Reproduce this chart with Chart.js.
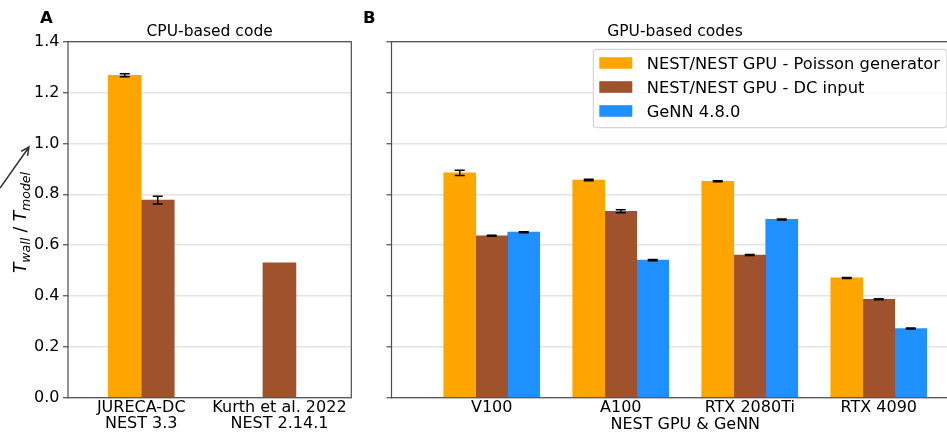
<!DOCTYPE html>
<html lang="en">
<head>
<meta charset="UTF-8">
<title>Real-time factor: CPU vs GPU codes</title>
<script src="https://cdn.jsdelivr.net/npm/chart.js@4.4.0/dist/chart.umd.min.js"></script>
<style>
  html, body { margin: 0; padding: 0; background: #fff; }
  body { width: 947px; height: 433px; overflow: hidden; position: relative; }
  #wrapA { position: absolute; left: 0; top: 0; width: 360px; height: 433px; }
  #wrapB { position: absolute; left: 355px; top: 0; width: 640px; height: 433px; }
</style>
</head>
<body>
<div id="wrapA"><canvas id="cpuChart"></canvas></div>
<div id="wrapB"><canvas id="gpuChart"></canvas></div>
<script>

// panel A - CPU-based code
var cpuLabels = [['JURECA-DC', 'NEST 3.3'], ['Kurth et al. 2022', 'NEST 2.14.1']];
var cpuPoisson = [1.268, null];
var cpuPoissonErr = [0.006, null];
var cpuDC = [0.777, 0.530];
var cpuDCErr = [0.015, null];

// panel B - GPU-based codes
var gpuLabels = ['V100', 'A100', 'RTX 2080Ti', 'RTX 4090'];
var gpuPoisson = [0.884, 0.856, 0.851, 0.471];
var gpuPoissonErr = [0.010, 0.003, 0.002, 0.002];
var gpuDC = [0.637, 0.733, 0.561, 0.387];
var gpuDCErr = [0.002, 0.006, 0.002, 0.002];
var genn = [0.651, 0.541, 0.701, 0.272];
var gennErr = [0.002, 0.002, 0.002, 0.002];

var seriesNames = ['NEST/NEST GPU - Poisson generator', 'NEST/NEST GPU - DC input', 'GeNN 4.8.0'];
var colors = ['#ffa500', '#a0522d', '#1e90ff'];

Chart.defaults.font.family = "'DejaVu Sans', sans-serif";
Chart.defaults.font.size = 16;
Chart.defaults.color = '#000';
Chart.defaults.animation = false;

function pts(vals) {
  return vals.map(function (v, i) { return { x: i, y: v }; });
}

var errorBars = {
  id: 'errorBars',
  afterDatasetsDraw: function (chart) {
    var ctx = chart.ctx, ys = chart.scales.y;
    ctx.save();
    ctx.strokeStyle = '#000';
    ctx.lineWidth = 1.5;
    chart.data.datasets.forEach(function (ds, di) {
      var meta = chart.getDatasetMeta(di);
      meta.data.forEach(function (bar, i) {
        var v = ds.data[i].y, e = ds.errors[i];
        if (v == null || e == null) return;
        var x = bar.x;
        var y1 = ys.getPixelForValue(v + e), y0 = ys.getPixelForValue(v - e);
        ctx.beginPath();
        ctx.moveTo(x, y1); ctx.lineTo(x, y0);
        ctx.moveTo(x - 5, y1); ctx.lineTo(x + 5, y1);
        ctx.moveTo(x - 5, y0); ctx.lineTo(x + 5, y0);
        ctx.stroke();
      });
    });
    ctx.restore();
  }
};

var frame = {
  id: 'frame',
  afterDraw: function (chart) {
    var a = chart.chartArea, ctx = chart.ctx;
    ctx.save();
    ctx.strokeStyle = '#4d4d4d';
    ctx.lineWidth = 1.2;
    ctx.strokeRect(a.left, a.top, a.right - a.left, a.bottom - a.top);
    ctx.restore();
  }
};

function yAxis(width, showLabels) {
  return {
    min: 0, max: 1.4,
    afterFit: function (s) { s.width = width; },
    border: { display: false },
    grid: { color: '#e3e3e3', lineWidth: 1.5, tickLength: 5, tickColor: '#4d4d4d', tickWidth: 1.2 },
    ticks: {
      display: showLabels, stepSize: 0.2, padding: 3.5,
      callback: function (v) { return v.toFixed(1); }
    }
  };
}

function xAxis(labels, min, max) {
  return {
    type: 'linear', min: min, max: max,
    offset: false,
    afterFit: function (s) { s.height = 35.3; },
    afterBuildTicks: function (s) { s.ticks = labels.map(function (_, i) { return { value: i }; }); },
    border: { display: false },
    grid: { display: false, offset: false, drawTicks: false },
    ticks: {
      autoSkip: false, maxRotation: 0, padding: 2,
      font: { lineHeight: 1.0 },
      callback: function (v) { return labels[v]; }
    }
  };
}

var cpuDecor = {
  id: 'cpuDecor',
  afterDraw: function (chart) {
    var ctx = chart.ctx, a = chart.chartArea;
    ctx.save();
    ctx.fillStyle = '#000';
    ctx.textBaseline = 'alphabetic';
    ctx.textAlign = 'left';
    ctx.font = "bold 16.5px 'DejaVu Sans'";
    ctx.fillText('A', 40, 23);
    ctx.textAlign = 'center';
    ctx.font = "15.5px 'DejaVu Sans'";
    ctx.fillText('CPU-based code', (a.left + a.right) / 2, 35.5);

    // y label T_wall / T_model
    var parts = [['T', 17, 0, 'italic '], ['wall', 12.5, 4.5, 'italic '], [' / ', 17, 0, ''],
                 ['T', 17, 0, 'italic '], ['model', 12.5, 4.5, 'italic ']];
    ctx.translate(25.5, 222.5);
    ctx.rotate(-Math.PI / 2);
    ctx.textAlign = 'left';
    var total = 0;
    parts.forEach(function (p) {
      ctx.font = p[3] + p[1] + "px 'DejaVu Sans'";
      p.push(ctx.measureText(p[0]).width);
      total += p[4];
    });
    var x = -total / 2;
    parts.forEach(function (p) {
      ctx.font = p[3] + p[1] + "px 'DejaVu Sans'";
      ctx.fillText(p[0], x, p[2]);
      x += p[4];
    });
    ctx.restore();

    // arrow coming in from the left
    ctx.save();
    ctx.strokeStyle = '#333';
    ctx.lineWidth = 1.5;
    var x0 = 0, y0 = 188, x1 = 29, y1 = 147;
    var ang = Math.atan2(y1 - y0, x1 - x0);
    ctx.beginPath();
    ctx.moveTo(x0, y0); ctx.lineTo(x1, y1);
    ctx.moveTo(x1 - 9 * Math.cos(ang - 0.45), y1 - 9 * Math.sin(ang - 0.45));
    ctx.lineTo(x1, y1);
    ctx.lineTo(x1 - 9 * Math.cos(ang + 0.45), y1 - 9 * Math.sin(ang + 0.45));
    ctx.stroke();
    ctx.restore();
  }
};

var gpuDecor = {
  id: 'gpuDecor',
  afterDraw: function (chart) {
    var ctx = chart.ctx, a = chart.chartArea;
    ctx.save();
    ctx.fillStyle = '#000';
    ctx.textBaseline = 'alphabetic';
    ctx.textAlign = 'left';
    ctx.font = "bold 16.5px 'DejaVu Sans'";
    ctx.fillText('B', 8, 23);
    ctx.textAlign = 'center';
    ctx.font = "15.5px 'DejaVu Sans'";
    ctx.fillText('GPU-based codes', a.left + 283.5, 35.5);
    ctx.font = "16px 'DejaVu Sans'";
    ctx.fillText('NEST GPU & GeNN', (a.left + a.right) / 2, 429);

    // legend
    ctx.font = "16.3px 'DejaVu Sans'";
    var bx = a.left + 201.8, by = a.top + 7.6, textX = bx + 53.4;
    var widest = 0;
    chart.data.datasets.forEach(function (ds) { widest = Math.max(widest, ctx.measureText(ds.label).width); });
    var bw = textX + widest + 7 - bx, bh = 78.4;
    ctx.beginPath();
    ctx.roundRect(bx, by, bw, bh, 3);
    ctx.fillStyle = 'rgba(255,255,255,0.8)';
    ctx.fill();
    ctx.strokeStyle = '#cccccc';
    ctx.lineWidth = 1;
    ctx.stroke();
    ctx.textAlign = 'left';
    chart.data.datasets.forEach(function (ds, i) {
      var rowY = by + 13.7 + i * 24;
      ctx.fillStyle = ds.backgroundColor;
      ctx.fillRect(bx + 6, rowY - 5.8, 33, 11.6);
      ctx.fillStyle = '#000';
      ctx.fillText(ds.label, textX, rowY + 6);
    });
    ctx.restore();
  }
};

window.onload = function () {
  new Chart(document.getElementById('cpuChart'), {
    type: 'bar',
    data: {
      datasets: [
        { label: seriesNames[0], data: pts(cpuPoisson), errors: cpuPoissonErr, backgroundColor: colors[0] },
        { label: seriesNames[1], data: pts(cpuDC), errors: cpuDCErr, backgroundColor: colors[1] }
      ]
    },
    options: {
      responsive: true,
      maintainAspectRatio: false,
      skipNull: true,
      barThickness: 33,
      layout: { padding: { top: 41.7, right: 8.7, left: 0, bottom: 0 } },
      scales: {
        x: xAxis(cpuLabels, -0.53, 1.52),
        y: yAxis(68, true)
      },
      plugins: { legend: { display: false }, tooltip: { enabled: false } }
    },
    plugins: [errorBars, frame, cpuDecor]
  });

  new Chart(document.getElementById('gpuChart'), {
    type: 'bar',
    data: {
      datasets: [
        { label: seriesNames[0], data: pts(gpuPoisson), errors: gpuPoissonErr, backgroundColor: colors[0] },
        { label: seriesNames[1], data: pts(gpuDC), errors: gpuDCErr, backgroundColor: colors[1] },
        { label: seriesNames[2], data: pts(genn), errors: gennErr, backgroundColor: colors[2] }
      ]
    },
    options: {
      responsive: true,
      maintainAspectRatio: false,
      barThickness: 32,
      layout: { padding: { top: 41.7, right: 16, left: 0, bottom: 0 } },
      scales: {
        x: xAxis(gpuLabels, -0.777, 3.777),
        y: yAxis(36.5, false)
      },
      plugins: { legend: { display: false }, tooltip: { enabled: false } }
    },
    plugins: [errorBars, frame, gpuDecor]
  });
};
</script>
</body>
</html>
